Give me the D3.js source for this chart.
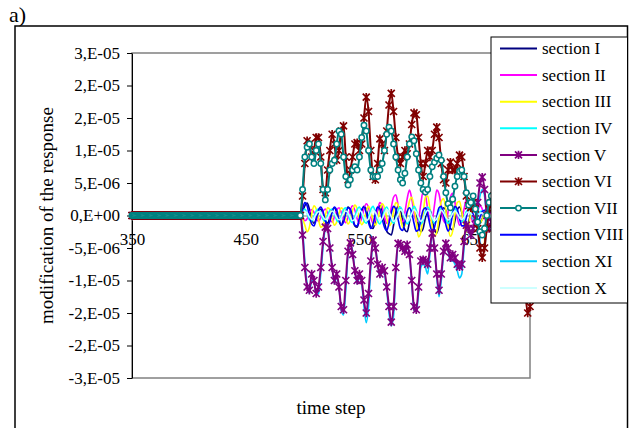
<!DOCTYPE html>
<html><head><meta charset="utf-8">
<script src="https://cdn.jsdelivr.net/npm/d3@7"></script>
<style>
body{margin:0;background:#fff}
svg{display:block}
svg text{font-family:"Times New Roman","Liberation Serif",Times,"DejaVu Serif",serif !important;fill:#000}
</style>
</head><body><svg id="c" width="632" height="428"></svg>
<script>
// ---- DATA (values in units of 1e-6) ----
const quietSteps = d3.range(350, 498, 1);   // before the onset, every step
const activeSteps = d3.range(498, 701, 2);  // 498 .. 700
const preOnset = [
  0,0,0,0,0,0,0,0,0,0, 0,0,0,0,0,0,0,0,0,0, 0,0,0,0,0,0,0,0,0,0,
  0,0,0,0,0,0,0,0,0,0, 0,0,0,0,0,0,0,0,0,0, 0,0,0,0,0,0,0,0,0,0,
  0,0,0,0,0,0,0,0,0,0, 0,0,0,0,0,0,0,0,0,0, 0,0,0,0,0,0,0,0,0,0,
  0,0,0,0,0,0,0,0,0,0, 0,0,0,0,0,0,0,0,0,0, 0,0,0,0,0,0,0,0,0,0,
  0,0,0,0,0,0,0,0,0,0, 0,0,0,0,0,0,0,0,0,0, 0,0,0,0,0,0,0,0
];
const seriesNames = ["section I","section II","section III","section IV","section V",
  "section VI","section VII","section VIII","section XI","section X"];

const secI = [
  0,0.5,1.5,1.9,1,-0.5,-1.2,-0.5,0.5,1,
  0.3,-0.8,-1.2,-0.3,0.8,1.2,0.4,-0.8,-1.5,-0.6,
  0.6,1.3,0.8,-0.6,-1.6,-1.8,-0.7,0.7,1.4,0.9,
  -0.5,-1.8,-2,-0.8,0.8,1.5,0.7,-1,-2.4,-2.8,
  -3,-1.5,0.5,1.4,0.8,-0.8,-2.2,-2.5,-1,0.6,
  1,0.2,-1.6,-2.5,-2,-0.4,0.8,0.9,-0.6,-2.2,
  -2.7,-1.6,0.2,1.2,0.8,-0.8,-2,-2.2,-0.8,0.8,
  1.3,0.5,-1,-1.8,-1,0.4,1.2,0.6,-0.6,-1.2,
  -0.5,0.6,1,0.2,-0.8,-1,0,0.8,0.6,-0.4,
  -0.9,-0.2,0.6,0.7,-0.2,-0.8,-0.4,0.4,0.6,0,
  -0.5,-0.3];
const secII = [
  0,-0.3,-0.8,-0.5,0.4,0.9,0.5,-0.4,-0.9,-0.3,
  0.6,1,0.4,-0.6,-1,-0.2,0.8,1.2,0.5,-0.6,
  -1.1,-0.3,0.9,1.5,0.8,-0.5,-1.2,-0.4,1,1.8,
  1.2,-0.3,-1.2,-0.6,0.9,2,1.4,-0.2,-1.2,-0.6,
  1.2,2.8,3.2,1.6,-0.4,-1,0.5,2.6,3.9,2.6,
  0.4,-1,-0.5,1.8,3.7,3.2,1,-0.8,-0.6,1.6,
  3.9,3.3,1.2,-0.8,-1.2,0.6,2.8,3.4,2,-0.2,
  -1.5,-0.8,1,2.4,2,0.2,-1.2,-0.8,0.6,1.5,
  1,-0.4,-1,-0.2,0.8,1,0.2,-0.6,-0.4,0.4,
  0.8,0.2,-0.6,-0.5,0.3,0.6,0,-0.5,-0.2,0.3,
  0.2,-0.2];
const secIII = [
  0,-0.5,-1.5,-2.5,-1.8,0.2,1.5,1,-0.6,-1.8,
  -1.5,0,1.2,0.9,-0.5,-1.5,-1,0.3,1.2,0.8,
  -0.5,-1.3,-0.7,0.8,1.6,1,-0.5,-1.4,-0.8,0.6,
  1.4,0.6,-0.8,-1.5,-0.7,0.8,1.8,1.2,-0.4,-1.6,
  -1.2,0.6,2,1.6,-0.2,-1.8,-1.6,0.4,2.2,2.8,
  1.4,-1,-3.3,-2.6,0.2,2.8,3,1,-1.8,-3.2,
  -2.6,-0.2,2.2,2.6,0.8,-1.8,-3.2,-2.4,0.2,2,
  2.2,0.6,-1.5,-2.6,-1.6,0.4,1.4,0.8,-0.6,-1.2,
  -0.6,0.4,0.9,0.3,-0.6,-0.8,0,0.6,0.4,-0.3,
  -0.6,-0.2,0.4,0.5,-0.1,-0.5,-0.3,0.2,0.4,0,
  -0.3,-0.2];
const secIV = [
  0,0.6,1,0.3,-0.7,-0.9,-0.2,0.7,1,0.3,
  -0.6,-0.9,-0.1,0.8,1,0.2,-0.7,-1,-0.2,0.9,
  1.2,0.3,-0.8,-1.1,-0.2,0.9,1.3,0.4,-0.8,-1.2,
  -0.3,0.9,1.4,0.5,-0.8,-1.3,-0.4,0.8,1.3,0.5,
  -0.7,-1.2,-0.4,0.8,1.3,0.6,-0.6,-1.3,-0.6,0.7,
  1.4,0.8,-0.5,-1.3,-0.7,0.6,1.3,0.7,-0.5,-1.2,
  -0.6,0.6,1.2,0.6,-0.6,-1.2,-0.5,0.7,1.1,0.4,
  -0.6,-1,-0.3,0.6,0.9,0.3,-0.5,-0.8,-0.2,0.6,
  0.7,0.1,-0.5,-0.6,0,0.5,0.5,-0.1,-0.5,-0.3,
  0.3,0.5,0.1,-0.4,-0.4,0.1,0.4,0.2,-0.2,-0.3,
  0,0.2];
const secV = [
  0,-3,-8,-11,-11.5,-9,-10,-12,-11,-8,
  -4,-1.8,-2,-5,-8,-10,-9,-11,-14,-14.5,
  -10,-5.5,-4.2,-6,-8.5,-10,-9,-10,-13,-15,
  -12,-7,-3.8,-5,-7.5,-9,-8,-8.5,-11,-14,
  -16.4,-14,-8,-4.3,-4.5,-5,-5.5,-4.5,-6,-10,
  -14,-14.5,-11,-7,-6.8,-7,-7.5,-5,-2.7,-5,
  -9,-11.5,-9,-5.5,-4.3,-5,-6.5,-6,-6.5,-7.5,
  -7.9,-7.5,-4,-1.5,-2,-3,-2,-0.5,2,5,
  5.9,4,0,-2,-1,1,3,2,-1,-3,
  -2,1,3,1,-2,-4,-3,0,2,0,
  -2,-1];
const secVI = [
  0,3,8,11.5,11,9,10,12,12,9,
  4,3.5,7,10,12.5,11,8.5,10,13,13.8,
  9,5.5,7,9,11,11.2,10,11,15,18.2,
  16,10,6,5.5,8,11.8,11,10,13,17,
  18.8,16,12,9,8,9,10,9.5,11,14,
  15.8,15.5,12,8,6,8,10,9,10,12.5,
  13.6,12,8,5.5,5,7,8.2,7,7,8,
  9.3,9,6,3,1.5,1.2,2,1,-2,-5,
  -6.5,-5,-2,1,2,3,0,-3,-4,-1,
  2,1,-3,-6,-5,-2,-1,-4,-8,-12,
  -15,-14];
const secVII = [
  0,4,9,10.5,11,9,8,10,11,8,
  4,2.4,4,7,8,8.5,11,13,12.5,9,
  6,4.7,5.5,7,7.5,7,9,12,13.9,13,
  10,7,6,6,6,7,8,10,12.5,13.6,
  13,11,9,7,5.5,5,6.5,9,11,12.1,
  11.5,9.5,7,5,4,3.6,4,6,7.5,8.2,
  8.8,9.3,8.5,6,3.5,1.8,1.2,2.5,4.5,6,
  6.8,7,6,3.5,1.6,2,3,1,-1,-2.5,
  -3,-2,0,2,3,2,0,-2,-1,1,
  2,0,-2,-3,-1,1,0,-2,-4,-5,
  -4,-3];
const secVIII = [
  0,1,2,1.5,0,-1.3,-1.6,-0.6,0.8,1.3,
  0.6,-0.8,-1.5,-0.9,0.5,1.3,0.8,-0.6,-1.5,-1,
  0.3,1.2,1,-0.3,-1.5,-1.6,-0.4,0.9,1.3,0.4,
  -1.1,-2,-1.3,0.3,1.3,1,-0.5,-1.8,-2.3,-1.2,
  0.4,1.4,1,-0.6,-2,-2.3,-1,0.6,1.2,0.4,
  -1.2,-2.4,-2.2,-0.6,0.8,1.2,0.2,-1.4,-2.5,-1.8,
  -0.2,1.2,1.4,0.2,-1.4,-2.4,-1.6,0.2,1.4,1,
  -0.4,-1.6,-1.6,-0.3,1,1.2,0.2,-1,-1.2,-0.3,
  0.6,0.8,0.1,-0.6,-0.7,0,0.6,0.5,-0.2,-0.6,
  -0.4,0.2,0.5,0.2,-0.3,-0.5,-0.1,0.3,0.3,-0.1,
  -0.3,-0.1];
const secXI = [
  0,-2,-7,-10.5,-12,-10,-10,-12.2,-12,-9,
  -5,-2.2,-2,-4.5,-8,-10.5,-9.5,-11,-14.5,-15.3,
  -11.5,-6,-4.5,-5.5,-8.5,-10.5,-9.5,-10.5,-14,-16.5,
  -14,-8,-4,-4.8,-7.5,-9.5,-8.5,-9,-11.5,-15,
  -17,-15.5,-9,-4.5,-4.5,-5.2,-5.8,-5,-6,-10.5,
  -14.5,-14.8,-12,-8,-7.5,-8,-9,-6,-3,-5,
  -9.5,-12.5,-10,-6,-4.5,-5.5,-7,-7,-7.5,-8.5,
  -9.6,-9,-5,-2,-2.5,-3,-2,-1,1,3,
  4,3,0,-2,-1.5,0.5,2.5,2,-1,-3.5,
  -2.5,0.5,2.5,1,-2,-4.5,-3.5,-0.5,1.5,0,
  -2,-1.5];
const secX = [
  0,0.3,0.6,0.4,-0.2,-0.6,-0.4,0.2,0.6,0.4,
  -0.2,-0.6,-0.4,0.3,0.7,0.4,-0.3,-0.7,-0.4,0.3,
  0.7,0.4,-0.3,-0.8,-0.5,0.3,0.8,0.5,-0.3,-0.8,
  -0.5,0.3,0.8,0.5,-0.3,-0.8,-0.5,0.3,0.9,0.6,
  -0.2,-0.9,-0.6,0.2,0.9,0.6,-0.2,-0.9,-0.6,0.3,
  0.9,0.5,-0.3,-0.9,-0.5,0.3,0.8,0.5,-0.3,-0.8,
  -0.5,0.3,0.8,0.4,-0.3,-0.7,-0.4,0.3,0.7,0.3,
  -0.3,-0.6,-0.3,0.3,0.6,0.3,-0.2,-0.5,-0.2,0.3,
  0.4,0.1,-0.3,-0.3,0.1,0.3,0.2,-0.1,-0.3,-0.1,
  0.2,0.2,0,-0.2,-0.1,0.1,0.2,0,-0.1,-0.1,
  0,0];

const yTicks = [-25,-20,-15,-10,-5,0,5,10,15,20,25];
const xTicks = [350,450,550,650];

// ---- STYLE ----
const FONT = '"Times New Roman","Liberation Serif",Times,"DejaVu Serif",serif';
const seriesColors = ["#000080","#FF00FF","#FFFF00","#00FFFF","#800080",
  "#800000","#008080","#0000FF","#00CCFF","#CCFFFF"];
const seriesMarkers = ["none","none","none","none","star","star","circle","none","none","none"];
const seriesValues = [secI,secII,secIII,secIV,secV,secVI,secVII,secVIII,secXI,secX];
const drawOrder = [0,1,2,3,7,9,8,4,5,6];

const steps = quietSteps.concat(activeSteps);
const series = seriesNames.map((name,i)=>{
  const vals = preOnset.concat(seriesValues[i]);
  return {name, color: seriesColors[i], marker: seriesMarkers[i],
    pts: steps.map((s,k)=>[s, vals[k]])};
});

const svg = d3.select("#c");
svg.append("rect").attr("width",632).attr("height",428).attr("fill","#fff");

const x = d3.scaleLinear().domain([350,700]).range([132,530]);
const y = d3.scaleLinear().domain([-25,25]).range([378,53]);

function excelFmt(v){
  if (v === 0) return "0,E+00";
  const a = Math.abs(v);
  let e = Math.floor(Math.log10(a) + 1e-12);
  let m = Math.round(a / Math.pow(10, e) + 1e-9);
  if (m >= 10){ m = 1; e += 1; }
  const ex = e - 6;
  const sgn = v < 0 ? "-" : "";
  return sgn + m + ",E" + (ex < 0 ? "-" : "+") + String(Math.abs(ex)).padStart(2,"0");
}
function txt(sel, size){ return sel.style("font-family", FONT).style("font-size", size+"px"); }

// outer frame
svg.append("rect").attr("x",15).attr("y",26).attr("width",612.5).attr("height",430)
  .attr("fill","none").attr("stroke","#000").attr("stroke-width",1.5);
txt(svg.append("text").attr("x",9).attr("y",22).text("a)"), 22);

// plot area border
svg.append("rect").attr("x",x(350)).attr("y",y(25)).attr("width",x(700)-x(350)).attr("height",y(-25)-y(25))
  .attr("fill","none").attr("stroke","#808080").attr("stroke-width",1.5);

// y axis
const gy = svg.append("g").attr("transform",`translate(${x(350)},0)`)
  .call(d3.axisLeft(y).tickValues(yTicks).tickFormat(excelFmt).tickSize(5).tickSizeOuter(0).tickPadding(7));
gy.attr("font-family", null).attr("font-size", null);
txt(gy.selectAll("text"), 17);
gy.selectAll("line").attr("stroke","#000");
gy.select(".domain").attr("stroke","#000");

// x axis at zero
const gx = svg.append("g").attr("transform",`translate(0,${y(0)})`)
  .call(d3.axisBottom(x).tickValues(xTicks).tickFormat(d3.format("d")).tickSize(5).tickSizeOuter(0).tickPadding(12));
gx.attr("font-family", null).attr("font-size", null);
txt(gx.selectAll("text"), 17);
gx.selectAll("line").attr("stroke","#808080");
gx.select(".domain").attr("stroke","#808080");

// axis titles
txt(svg.append("text").attr("transform",`translate(53,${(y(25)+y(-25))/2}) rotate(-90)`)
  .attr("text-anchor","middle").text("modification of the response"), 19);
txt(svg.append("text").attr("x",(x(350)+x(700))/2).attr("y",414)
  .attr("text-anchor","middle").text("time step"), 19);

// series
const line = d3.line().x(d=>x(d[0])).y(d=>y(d[1])).curve(d3.curveMonotoneX);
const starPath = "M-3.5,-3.5L3.5,3.5M-3.5,3.5L3.5,-3.5M0,-4.2L0,4.2";
function drawMarker(g, s, px, py){
  if (s.marker === "star"){
    g.append("path").attr("d",starPath).attr("transform",`translate(${px},${py})`)
      .attr("stroke",s.color).attr("stroke-width",1.7).attr("fill","none");
  } else if (s.marker === "circle"){
    g.append("circle").attr("cx",px).attr("cy",py).attr("r",2.7)
      .attr("stroke",s.color).attr("stroke-width",1.5).attr("fill","#fff");
  }
}
const plot = svg.append("g");
drawOrder.forEach(i=>{
  const s = series[i];
  const g = plot.append("g");
  g.append("path").attr("d",line(s.pts)).attr("fill","none")
    .attr("stroke",s.color).attr("stroke-width",s.marker==="none"?1.6:2);
  if (s.marker !== "none"){
    s.pts.forEach(p=>drawMarker(g, s, x(p[0]), y(p[1])));
  }
});

// legend
const lg = svg.append("g");
lg.append("rect").attr("x",491).attr("y",37).attr("width",136.5).attr("height",266)
  .attr("fill","#fff").attr("stroke","#000").attr("stroke-width",1);
series.forEach((s,i)=>{
  const cy = 48.5 + i*26.6;
  lg.append("line").attr("x1",500).attr("x2",537).attr("y1",cy).attr("y2",cy)
    .attr("stroke",s.color).attr("stroke-width",2);
  drawMarker(lg, s, 518.5, cy);
  txt(lg.append("text").attr("x",542).attr("y",cy).attr("dy","0.33em").text(s.name), 17);
});
</script>
</body></html>
